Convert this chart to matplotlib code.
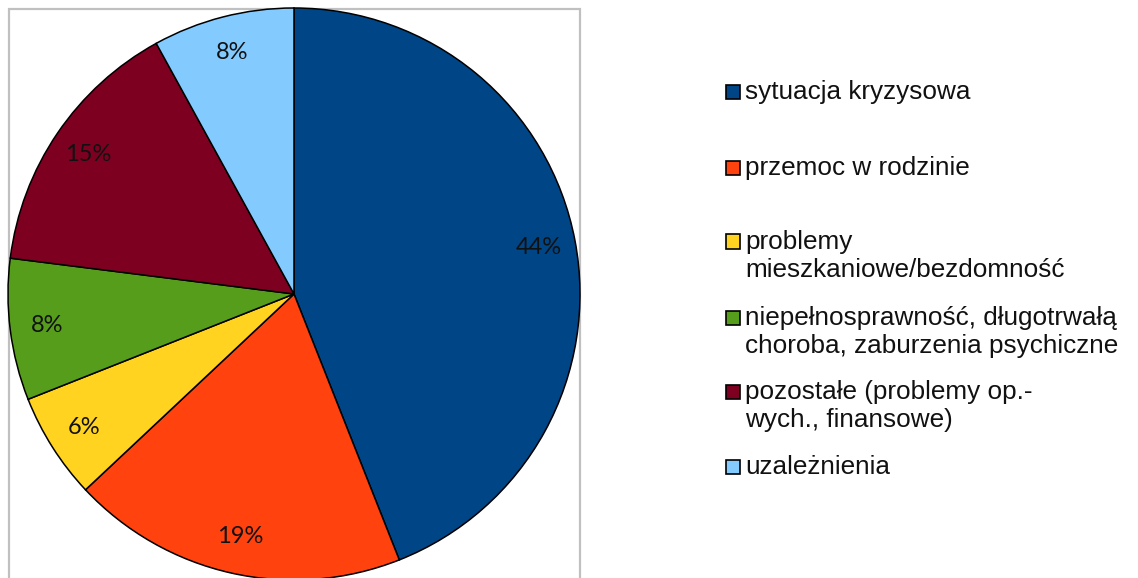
import matplotlib.pyplot as plt
from matplotlib.patches import Rectangle

W, H = 1138, 578

categories = [
    "sytuacja kryzysowa",
    "przemoc w rodzinie",
    "problemy\nmieszkaniowe/bezdomność",
    "niepełnosprawność, długotrwałą\nchoroba, zaburzenia psychiczne",
    "pozostałe (problemy op.-\nwych., finansowe)",
    "uzależnienia",
]
shares = [44, 19, 6, 8, 15, 8]
colors = ["#004586", "#ff420e", "#ffd320", "#579d1c", "#7e0021", "#83caff"]

# legend entry centres (px from top), taken from the layout of the original
legend_y = [92, 168, 256, 332, 406, 467]

fig = plt.figure(figsize=(W / 100, H / 100), dpi=100)

# grey plot-area frame (runs off the bottom edge)
fig.add_artist(Rectangle((9 / W, -0.05), 571 / W, (H - 9) / H + 0.05,
                         transform=fig.transFigure, facecolor="white",
                         edgecolor="#c0c0c0", linewidth=1.6, zorder=-5))

cx, cy, r = 294, 284, 286
ax = fig.add_axes([(cx - r) / W, (cy - r) / H, 2 * r / W, 2 * r / H])
ax.patch.set_visible(False)
wedges, _, autotexts = ax.pie(
    shares, colors=colors, startangle=90, counterclock=False,
    autopct="%.0f%%", pctdistance=0.87, radius=1,
    wedgeprops=dict(edgecolor="black", linewidth=1.1),
    textprops=dict(family="Lato", fontsize=17, color="#111111"),
)
ax.set_xlim(-1, 1)
ax.set_ylim(-1, 1)
ax.set_aspect("auto")
ax.axis("off")
for w in wedges:
    w.set_clip_on(False)

for label, col, y in zip(categories, colors, legend_y):
    nlines = label.count("\n") + 1
    top = y - (nlines - 1) * 14.5
    fig.add_artist(Rectangle((726 / W, 1 - (top + 7) / H), 14 / W, 14 / H,
                             transform=fig.transFigure, facecolor=col,
                             edgecolor="black", linewidth=1.2))
    fig.text(745 / W, 1 - y / H, label, family="Liberation Sans",
             fontsize=18.8, va="center", ha="left", linespacing=1.17,
             color="#111111")

fig.savefig("out.png", dpi=100)
